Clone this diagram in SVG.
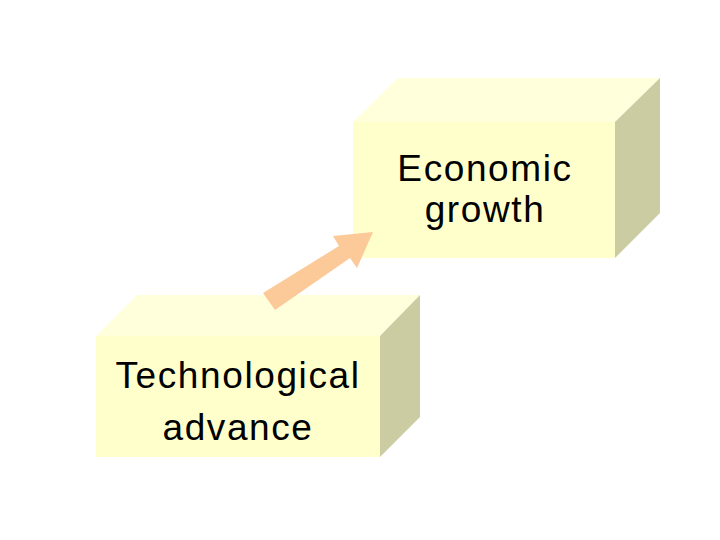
<svg xmlns="http://www.w3.org/2000/svg" width="720" height="540" viewBox="0 0 720 540">
<style>
.front{fill:#FFFFCC}
.top{fill:#FFFFDB}
.side{fill:#CCCCA3}
.lbl{font-family:"Liberation Sans",Arial,sans-serif;font-size:37px;fill:#000;text-anchor:middle;letter-spacing:1.6px}
</style>
<rect width="720" height="540" fill="#FFFFFF"/>
<g id="economic-growth">
<polygon class="top" points="353,122 398,78 660,78 615,122"/>
<polygon class="side" points="615,122 660,78 660,213 615,258"/>
<rect class="front" x="353" y="122" width="262" height="136"/>
<text class="lbl" x="485" y="181">Economic</text>
<text class="lbl" x="485" y="222">growth</text>
</g>
<g id="technological-advance">
<polygon class="top" points="96,336 137,295 420,295 380,336"/>
<polygon class="side" points="380,336 420,295 420,417 380,457"/>
<rect class="front" x="96" y="336" width="284" height="121"/>
<text class="lbl" x="238" y="388">Technological</text>
<text class="lbl" x="238" y="440">advance</text>
</g>
<g id="connectors">
<polygon fill="#FCC998" points="263,293 339,246 333,236 373,232 357,268 350,258 275,310"/>
</g>
</svg>
